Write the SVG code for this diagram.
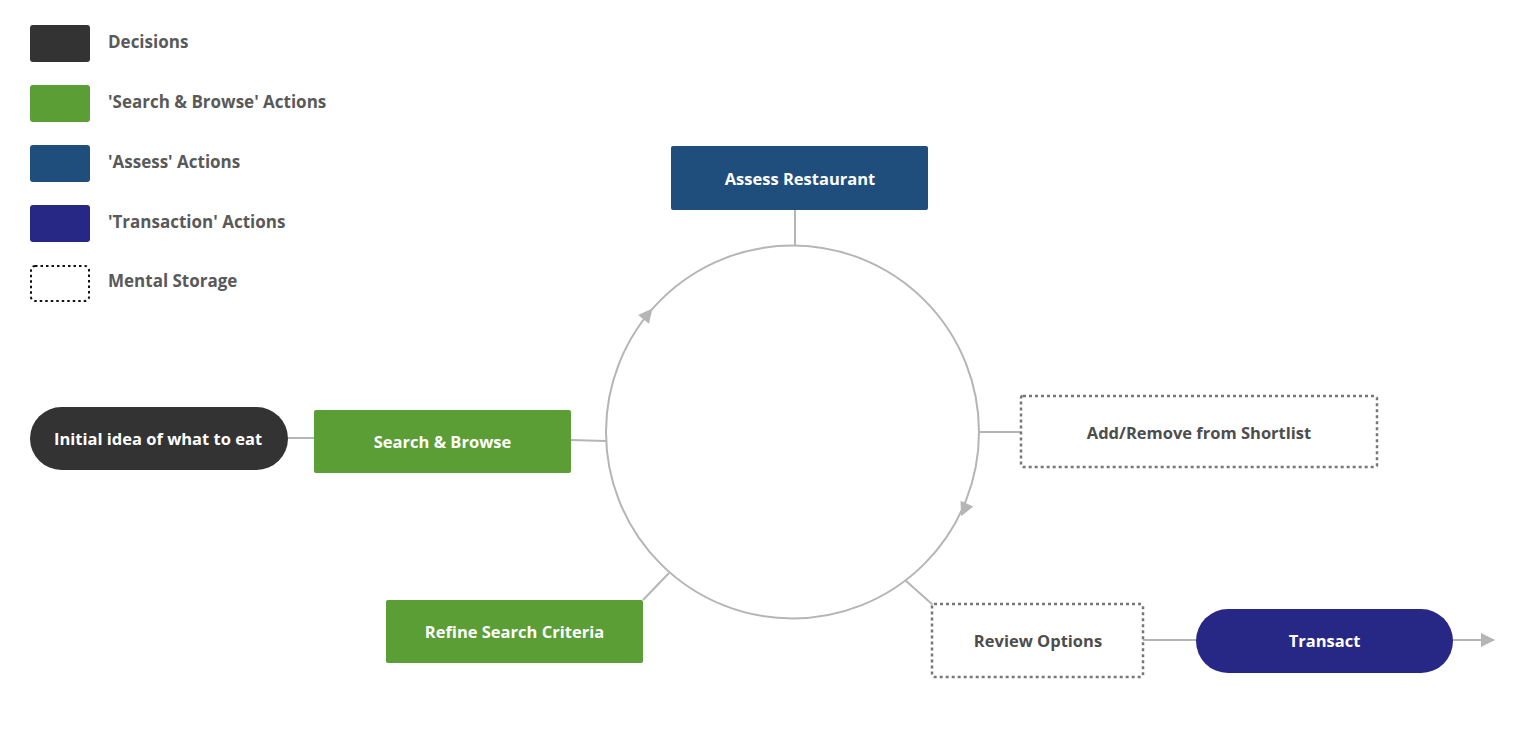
<svg xmlns="http://www.w3.org/2000/svg" width="1523" height="729" viewBox="0 0 1523 729">
<defs>
<style>
.lt{font-family:"Open Sans","Noto Sans","Liberation Sans",sans-serif;font-weight:700;font-size:17px;fill:#595959}
.nt{font-family:"Open Sans","Noto Sans","Liberation Sans",sans-serif;font-weight:700;font-size:16.5px;fill:#ffffff;text-anchor:middle;dominant-baseline:central}
.dt{font-family:"Open Sans","Noto Sans","Liberation Sans",sans-serif;font-weight:700;font-size:16.5px;fill:#4d4d4d;text-anchor:middle;dominant-baseline:central}
.ln{stroke:#b5b5b5;stroke-width:2;fill:none}
.ah{fill:#b5b5b5}
.dash{fill:#fff;stroke:#777;stroke-width:2.5;stroke-dasharray:3 3}
</style>
<marker id="arr" viewBox="0 0 14 14" refX="13" refY="7" markerWidth="14" markerHeight="14" markerUnits="userSpaceOnUse" orient="auto">
<path d="M0,0 L14,7 L0,14 Z" fill="#b5b5b5"/>
</marker>
</defs>
<rect width="1523" height="729" fill="#fff"/>
<g id="legend">
<rect x="30" y="25" width="60" height="37" rx="3" fill="#333333"/>
<text class="lt" x="108" y="48">Decisions</text>
<rect x="30" y="85" width="60" height="37" rx="3" fill="#5a9e35"/>
<text class="lt" x="108" y="108">'Search &amp; Browse' Actions</text>
<rect x="30" y="145" width="60" height="37" rx="3" fill="#1f4e7d"/>
<text class="lt" x="108" y="168">'Assess' Actions</text>
<rect x="30" y="205" width="60" height="37" rx="3" fill="#272786"/>
<text class="lt" x="108" y="228">'Transaction' Actions</text>
<rect x="31" y="266" width="58" height="35" rx="4" fill="none" stroke="#111" stroke-width="2" stroke-dasharray="2.5 3"/>
<text class="lt" x="108" y="287">Mental Storage</text>
</g>
<g id="connectors">
<circle class="ln" cx="792.5" cy="432" r="186.5"/>
<polygon class="ah" points="0,-7 14,0 0,7" transform="translate(648,314) rotate(309.2) translate(-7,0)"/>
<polygon class="ah" points="0,-7 14,0 0,7" transform="translate(964,510) rotate(114.5) translate(-7,0)"/>
<line class="ln" x1="795" y1="210" x2="795" y2="245"/>
<line class="ln" x1="288" y1="438" x2="314" y2="438"/>
<line class="ln" x1="571" y1="440" x2="606" y2="441"/>
<line class="ln" x1="979" y1="432" x2="1021" y2="432"/>
<line class="ln" x1="643" y1="600" x2="669" y2="573"/>
<line class="ln" x1="905" y1="580" x2="933" y2="605"/>
<line class="ln" x1="1143" y1="640" x2="1196" y2="640"/>
<line class="ln" x1="1453" y1="640" x2="1494" y2="640" marker-end="url(#arr)"/>
</g>
<g id="assess">
<rect x="671" y="146" width="257" height="64" rx="2" fill="#1f4e7d"/>
<text class="nt" x="800" y="178">Assess Restaurant</text>
</g>
<g id="initial">
<rect x="30" y="407" width="258" height="63" rx="31.5" fill="#333333"/>
<text class="nt" x="158" y="438">Initial idea of what to eat</text>
</g>
<g id="search">
<rect x="314" y="410" width="257" height="63" rx="2" fill="#5a9e35"/>
<text class="nt" x="442.5" y="441">Search &amp; Browse</text>
</g>
<g id="shortlist">
<rect class="dash" x="1021" y="396" width="356" height="71" rx="2"/>
<text class="dt" x="1199" y="432">Add/Remove from Shortlist</text>
</g>
<g id="refine">
<rect x="386" y="600" width="257" height="63" rx="2" fill="#5a9e35"/>
<text class="nt" x="514.5" y="631">Refine Search Criteria</text>
</g>
<g id="review">
<rect class="dash" x="932" y="604" width="211" height="73" rx="2"/>
<text class="dt" x="1038" y="640">Review Options</text>
</g>
<g id="transact">
<rect x="1196" y="609" width="257" height="64" rx="32" fill="#272786"/>
<text class="nt" x="1324.5" y="640">Transact</text>
</g>
</svg>
